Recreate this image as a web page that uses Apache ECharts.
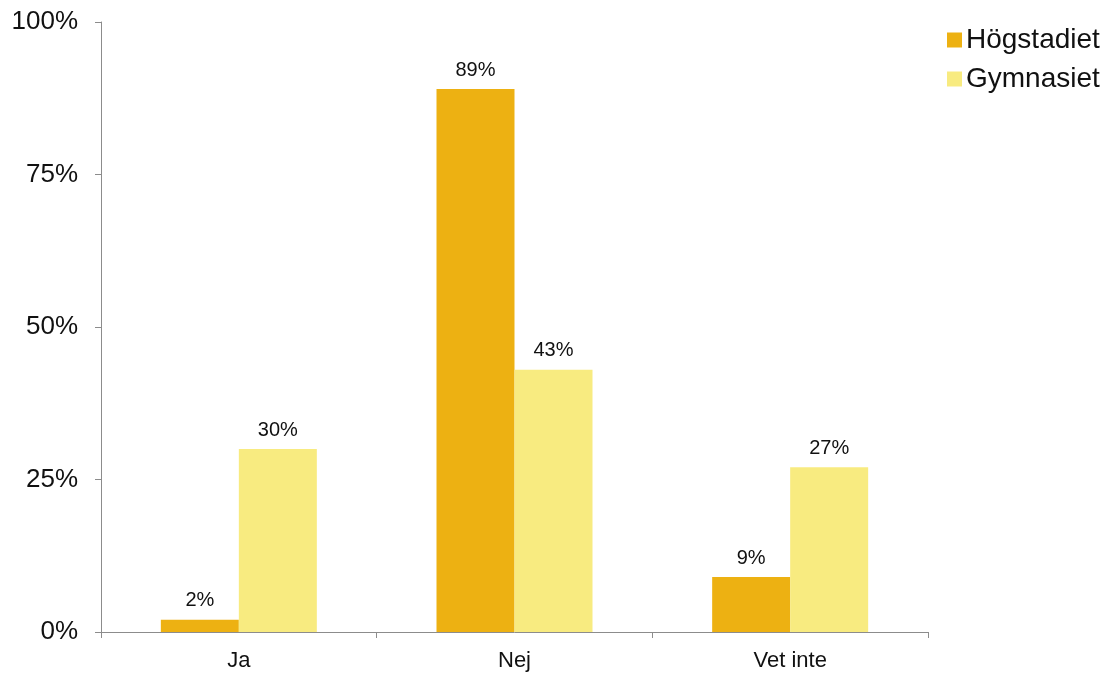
<!DOCTYPE html>
<html>
<head>
<meta charset="utf-8">
<script src="https://cdn.jsdelivr.net/npm/echarts@6/dist/echarts.min.js"></script>
<style>
  html, body { margin: 0; padding: 0; background: #fff; }
  #chart { width: 1106px; height: 675px; }
</style>
</head>
<body>
<div id="chart"></div>
<script>
// Survey answers per school level (percent)
const categories = ['Ja', 'Nej', 'Vet inte'];
const hogstadiet = [2, 89, 9];
const gymnasiet = [30, 43, 27];
const yTicks = [0, 25, 50, 75, 100];

const font = 'Liberation Sans, Arial, sans-serif';
const axisGray = '#8c8c8c';

const chart = echarts.init(document.getElementById('chart'));

const barLabel = {
  show: true,
  position: 'top',
  distance: 9,
  formatter: p => p.value + '%',
  color: '#111',
  fontSize: 20,
  fontFamily: font
};

chart.setOption({
  animation: false,
  grid: { left: 101, right: 178, top: 22, bottom: 43 },
  legend: {
    orient: 'vertical',
    left: 942,
    top: 21,
    itemWidth: 15,
    itemHeight: 15,
    itemGap: 11,
    itemStyle: { borderWidth: 0 },
    icon: 'rect',
    textStyle: { fontSize: 28, lineHeight: 28, fontFamily: font, color: '#111', padding: [0, 0, 0, -1] },
    data: ['Högstadiet', 'Gymnasiet']
  },
  xAxis: {
    type: 'category',
    data: categories,
    axisLine: { lineStyle: { color: axisGray, width: 1 } },
    axisTick: { show: true, length: 6, alignWithLabel: false, lineStyle: { color: axisGray } },
    axisLabel: { fontSize: 22, fontFamily: font, color: '#111', margin: 18 }
  },
  yAxis: {
    type: 'value',
    min: yTicks[0],
    max: yTicks[yTicks.length - 1],
    interval: 25,
    axisLine: { show: true, lineStyle: { color: axisGray, width: 1 } },
    axisTick: { show: true, length: 6, lineStyle: { color: axisGray } },
    splitLine: { show: false },
    axisLabel: {
      fontSize: 26,
      fontFamily: font,
      color: '#111',
      margin: 23,
      formatter: v => v + '%'
    }
  },
  series: [
    {
      name: 'Högstadiet',
      type: 'bar',
      data: hogstadiet,
      barWidth: 78,
      barGap: '0%',
      itemStyle: { color: '#EDB112' },
      label: barLabel
    },
    {
      name: 'Gymnasiet',
      type: 'bar',
      data: gymnasiet,
      barWidth: 78,
      barGap: '0%',
      itemStyle: { color: '#F8EB80' },
      label: barLabel
    }
  ]
});
</script>
</body>
</html>
